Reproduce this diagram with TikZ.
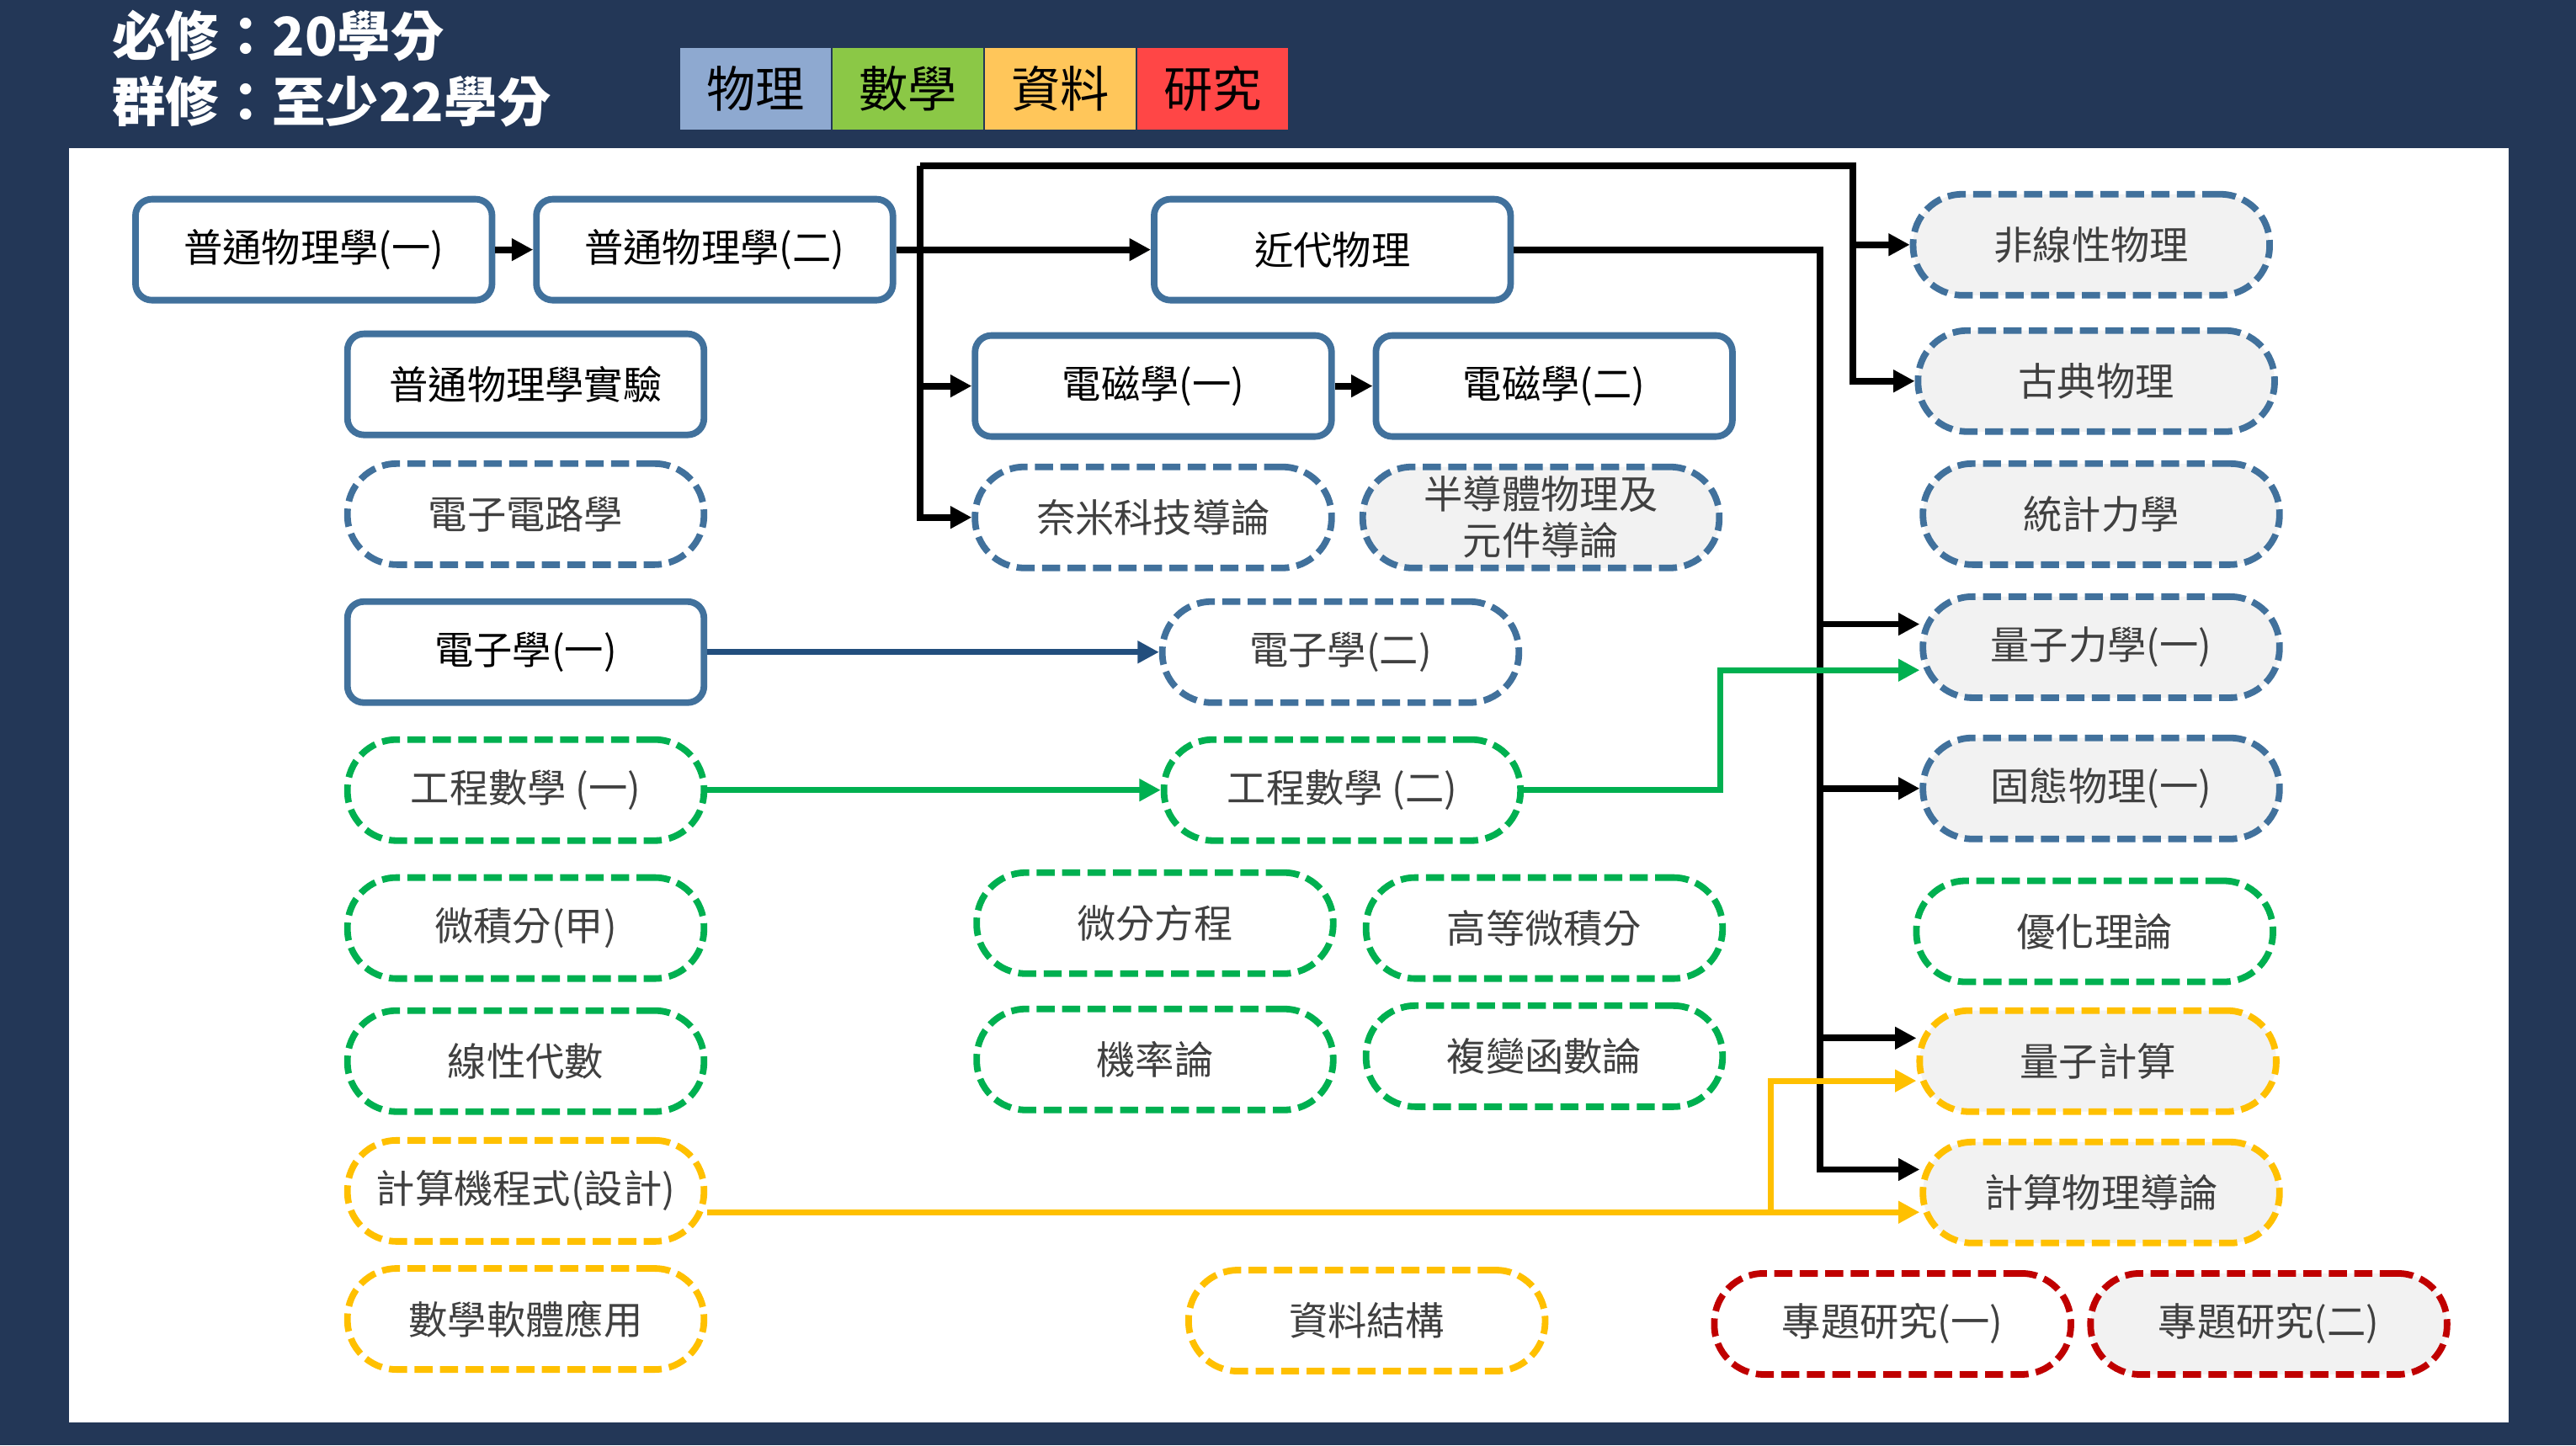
\documentclass[tikz,border=0pt]{standalone}
\usepackage{fontspec}
\setmainfont{Noto Sans CJK TC}
\usetikzlibrary{shapes,arrows.meta,positioning}

\definecolor{navy}{RGB}{35,55,87}
\definecolor{phyblue}{RGB}{65,113,156}
\definecolor{mathgreen}{RGB}{0,176,80}
\definecolor{datayellow}{RGB}{255,192,0}
\definecolor{resred}{RGB}{192,0,0}
\definecolor{lightbg}{RGB}{242,242,242}
\definecolor{deepblue}{RGB}{34,78,125}
\definecolor{legPhy}{RGB}{142,169,208}
\definecolor{legMath}{RGB}{139,200,70}
\definecolor{legData}{RGB}{255,198,90}
\definecolor{legRes}{RGB}{255,70,70}
\definecolor{optText}{RGB}{64,64,64}

\newcommand{\coursefont}{\fontsize{13.5}{16}\selectfont}

\tikzstyle{core} = [draw=phyblue, line width=0.8mm, rounded corners=2mm, fill=white, minimum width=43.4mm, minimum height=12.3mm, inner sep=0pt, font=\coursefont, text=black]
\tikzstyle{opt} = [draw, line width=0.8mm, dash pattern=on 2.2mm off 0.9mm, rounded corners=6mm, fill=white, minimum width=43.4mm, minimum height=12.3mm, inner sep=0pt, font=\coursefont, text=optText, align=center]
\tikzstyle{optPhy} = [opt, draw=phyblue]
\tikzstyle{optMath} = [opt, draw=mathgreen]
\tikzstyle{optData} = [opt, draw=datayellow]
\tikzstyle{optRes} = [opt, draw=resred]
\tikzstyle{adv} = [fill=lightbg]
\tikzstyle{legend} = [minimum width=18.4mm, minimum height=10mm, inner sep=0pt, font=\fontsize{17}{20}\selectfont]
\tikzstyle{header} = [anchor=west, text=white, font=\fontsize{18.5}{22}\selectfont\bfseries]
\tikzstyle{link} = [line width=0.8mm, black]
\tikzstyle{blink} = [line width=0.7mm, deepblue]
\tikzstyle{glink} = [line width=0.7mm, mathgreen]
\tikzstyle{ylink} = [line width=0.7mm, datayellow]

\begin{document}
\begin{tikzpicture}[x=0.2mm,y=-0.2mm,>={Triangle[length=2.6mm,width=2.6mm]}]
    \fill[navy] (0,0) rectangle (1568,880);
    \fill[white] (42,90) rectangle (1527,866);
    \useasboundingbox (0,0) rectangle (1568,880);

    % header and legend
    \node[header] (reqd) at (62,22) {必修：20學分};
    \node[header] (grp) at (62,62) {群修：至少22學分};
    \node[legend, fill=legPhy] (lgPhy) at (460,54) {物理};
    \node[legend, fill=legMath, right=0pt of lgPhy] (lgMath) {數學};
    \node[legend, fill=legData, right=0pt of lgMath] (lgData) {資料};
    \node[legend, fill=legRes, right=0pt of lgData] (lgRes) {研究};

    % required courses
    \node[core] (gpA) at (191,152) {普通物理學(一)};
    \node[core] (gpB) at (435,152) {普通物理學(二)};
    \node[core] (modern) at (811,152) {近代物理};
    \node[core] (gpLab) at (320,234) {普通物理學實驗};
    \node[core] (emA) at (702,235) {電磁學(一)};
    \node[core] (emB) at (946,235) {電磁學(二)};
    \node[core] (elecA) at (320,397) {電子學(一)};

    % group electives
    \node[optPhy, adv] (nonlin) at (1273,149) {非線性物理};
    \node[optPhy, adv] (classic) at (1276,232) {古典物理};
    \node[optPhy] (circuit) at (320,313) {電子電路學};
    \node[optPhy] (nano) at (702,315) {奈米科技導論};
    \node[optPhy, adv] (semi) at (938,315) {半導體物理及\\元件導論};
    \node[optPhy, adv] (statmech) at (1279,313) {統計力學};
    \node[optPhy] (elecB) at (816,397) {電子學(二)};
    \node[optPhy, adv] (qmA) at (1279,394) {量子力學(一)};
    \node[optMath] (engA) at (320,481) {工程數學 (一)};
    \node[optMath] (engB) at (817,481) {工程數學 (二)};
    \node[optPhy, adv] (solidA) at (1279,480) {固態物理(一)};
    \node[optMath] (calc) at (320,565) {微積分(甲)};
    \node[optMath] (ode) at (703,562) {微分方程};
    \node[optMath] (advcalc) at (940,565) {高等微積分};
    \node[optMath] (optim) at (1275,567) {優化理論};
    \node[optMath] (linalg) at (320,646) {線性代數};
    \node[optMath] (prob) at (703,645) {機率論};
    \node[optMath] (complex) at (940,643) {複變函數論};
    \node[optData, adv] (qcomp) at (1277,646) {量子計算};
    \node[optData] (prog) at (320,725) {計算機程式(設計)};
    \node[optData, adv] (compphys) at (1279,726) {計算物理導論};
    \node[optData] (mathsw) at (320,803) {數學軟體應用};
    \node[optData] (datastruct) at (832,804) {資料結構};
    \node[optRes] (projA) at (1152,806) {專題研究(一)};
    \node[optRes, adv] (projB) at (1381,806) {專題研究(二)};

    \coordinate (jL) at (560,101);
    \coordinate (jR) at (1128,101);
    \coordinate (jM) at (1108,152);
    \coordinate (jG) at (1047,481);
    \coordinate (jY) at (1078,738);

    % prerequisites
    \draw[link,->] (gpA) -- (gpB);
    \draw[link,->] (gpB) -- (modern);
    \draw[link,->] (emA) -- (emB);
    \draw[link,->] (jL) |- (nano);
    \draw[link,->] (jL |- emA) -- (emA);
    \draw[link,->] (jL) -- (jR) |- (classic);
    \draw[link,->] (jR |- nonlin) -- (nonlin);
    \draw[link,->] (modern) -- (jM) |- ([yshift=2.8mm]compphys.west);
    \draw[link,->] ([yshift=2.8mm]qmA.west -| jM) -- ([yshift=2.8mm]qmA.west);
    \draw[link,->] (solidA.west -| jM) -- (solidA);
    \draw[link,->] ([yshift=2.8mm]qcomp.west -| jM) -- ([yshift=2.8mm]qcomp.west);

    \draw[blink,->] (elecA) -- (elecB);
    \draw[glink,->] (engA) -- (engB);
    \draw[glink,->] (engB) -- (jG) |- ([yshift=-2.8mm]qmA.west);
    \draw[ylink,->] (prog.east |- jY) -- (jY -| compphys.west);
    \draw[ylink,->] (jY) |- ([yshift=-2.4mm]qcomp.west);
\end{tikzpicture}
\end{document}
